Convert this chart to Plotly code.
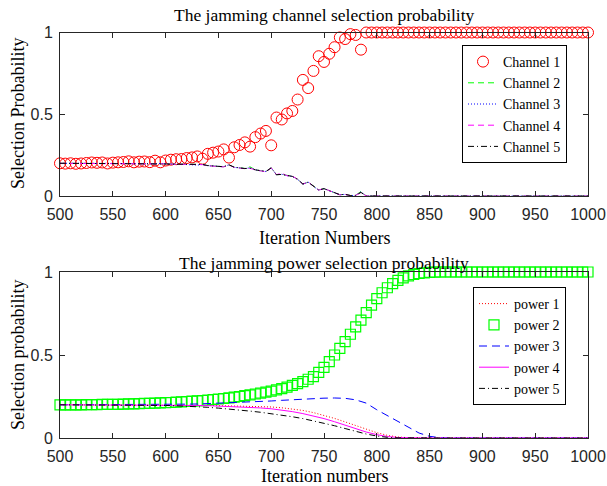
import plotly.graph_objects as go

# ---------------- data ----------------
ITER = list(range(500, 1001, 5))          # marker iterations (step 5)
ITER_LINE = list(range(500, 1001, 10))    # power line iterations (step 10)

CH1 = [0.200, 0.198, 0.200, 0.197, 0.199, 0.202, 0.205, 0.203, 0.205, 0.199,
       0.204, 0.206, 0.208, 0.212, 0.206, 0.210, 0.211, 0.207, 0.216, 0.206,
       0.217, 0.222, 0.225, 0.226, 0.232, 0.236, 0.242, 0.228, 0.258, 0.265,
       0.272, 0.285, 0.235, 0.298, 0.312, 0.328, 0.302, 0.360, 0.382, 0.398,
       0.310, 0.480, 0.468, 0.505, 0.520, 0.590, 0.710, 0.660, 0.765, 0.855,
       0.820, 0.870, 0.910, 0.970, 0.960, 0.990, 0.985, 0.895] + [1.0] * 43

CH2 = [0.200, 0.200, 0.200, 0.201, 0.200, 0.199, 0.199, 0.199, 0.199, 0.200,
       0.199, 0.198, 0.198, 0.197, 0.198, 0.197, 0.197, 0.198, 0.196, 0.198,
       0.196, 0.195, 0.194, 0.193, 0.192, 0.191, 0.190, 0.193, 0.186, 0.184,
       0.182, 0.179, 0.190, 0.176, 0.172, 0.169, 0.178, 0.160, 0.155, 0.150,
       0.172, 0.130, 0.133, 0.125, 0.120, 0.103, 0.073, 0.085, 0.059, 0.037,
       0.045, 0.033, 0.022, 0.008, 0.010, 0.003, 0.004, 0.028] + [0.0] * 43

CH3 = [0.200, 0.201, 0.200, 0.200, 0.200, 0.200, 0.199, 0.199, 0.199, 0.200,
       0.199, 0.199, 0.198, 0.197, 0.199, 0.198, 0.197, 0.198, 0.196, 0.199,
       0.196, 0.195, 0.194, 0.194, 0.192, 0.191, 0.189, 0.193, 0.185, 0.184,
       0.182, 0.179, 0.191, 0.175, 0.172, 0.168, 0.172, 0.160, 0.154, 0.150,
       0.172, 0.130, 0.133, 0.124, 0.120, 0.102, 0.072, 0.085, 0.059, 0.036,
       0.045, 0.032, 0.023, 0.008, 0.010, 0.002, 0.004, 0.025] + [0.0] * 43

CH4 = [0.200, 0.200, 0.200, 0.200, 0.200, 0.199, 0.199, 0.199, 0.199, 0.200,
       0.199, 0.198, 0.198, 0.197, 0.198, 0.198, 0.197, 0.198, 0.196, 0.198,
       0.196, 0.195, 0.194, 0.193, 0.192, 0.191, 0.189, 0.192, 0.185, 0.184,
       0.181, 0.178, 0.190, 0.175, 0.171, 0.167, 0.170, 0.159, 0.154, 0.148,
       0.172, 0.130, 0.140, 0.124, 0.121, 0.103, 0.073, 0.086, 0.060, 0.036,
       0.046, 0.033, 0.022, 0.007, 0.010, 0.002, 0.004, 0.022] + [0.0] * 43

CH5 = [0.200, 0.200, 0.200, 0.200, 0.200, 0.200, 0.199, 0.199, 0.199, 0.200,
       0.199, 0.199, 0.198, 0.197, 0.198, 0.197, 0.197, 0.198, 0.196, 0.198,
       0.196, 0.195, 0.194, 0.194, 0.192, 0.191, 0.190, 0.193, 0.186, 0.184,
       0.182, 0.179, 0.191, 0.176, 0.172, 0.168, 0.170, 0.160, 0.155, 0.150,
       0.172, 0.130, 0.132, 0.124, 0.120, 0.102, 0.073, 0.085, 0.059, 0.036,
       0.045, 0.032, 0.022, 0.008, 0.010, 0.003, 0.004, 0.022] + [0.0] * 43

POWER2 = [0.200, 0.200, 0.200, 0.200, 0.200, 0.201, 0.201, 0.201, 0.202, 0.202,
          0.203, 0.203,
          0.204, 0.205, 0.206, 0.207, 0.208, 0.209, 0.210, 0.211, 0.213, 0.214,
          0.216, 0.218, 0.220, 0.222, 0.224, 0.226, 0.229, 0.232, 0.235, 0.238,
          0.242, 0.246, 0.250, 0.255, 0.260, 0.265, 0.270, 0.276, 0.282, 0.290,
          0.298, 0.307, 0.317, 0.328, 0.340, 0.354, 0.370, 0.395, 0.425, 0.460,
          0.500, 0.540, 0.580, 0.625, 0.670, 0.710, 0.755, 0.800, 0.840, 0.875,
          0.905, 0.930, 0.950, 0.965, 0.977, 0.985, 0.991, 0.995, 0.998, 0.999] + [1.0] * 29

POWER1 = [0.200, 0.200, 0.200, 0.200, 0.200, 0.200, 0.200, 0.200, 0.200, 0.199,
          0.199, 0.198, 0.198, 0.197, 0.196, 0.195, 0.194, 0.192, 0.190, 0.189,
          0.187, 0.182, 0.175, 0.166, 0.153, 0.137, 0.118, 0.097, 0.074, 0.052,
          0.032, 0.016, 0.006, 0.002, 0.000, 0.000, 0.000, 0.000, 0.000, 0.000,
          0.000, 0.000, 0.000, 0.000, 0.000, 0.000, 0.000, 0.000, 0.000, 0.000,
          0.000]
POWER3 = [0.200, 0.200, 0.200, 0.200, 0.200, 0.200, 0.200, 0.201, 0.201, 0.201,
          0.202, 0.203, 0.204, 0.205, 0.207, 0.209, 0.211, 0.214, 0.217, 0.220,
          0.223, 0.227, 0.231, 0.235, 0.238, 0.240, 0.241, 0.239, 0.230, 0.210,
          0.170, 0.135, 0.098, 0.062, 0.030, 0.010, 0.002, 0.000, 0.000, 0.000,
          0.000, 0.000, 0.000, 0.000, 0.000, 0.000, 0.000, 0.000, 0.000, 0.000,
          0.000]
POWER4 = [0.200, 0.200, 0.200, 0.200, 0.200, 0.200, 0.200, 0.199, 0.199, 0.199,
          0.198, 0.198, 0.197, 0.196, 0.195, 0.193, 0.191, 0.188, 0.185, 0.181,
          0.176, 0.168, 0.159, 0.147, 0.133, 0.117, 0.098, 0.077, 0.056, 0.036,
          0.020, 0.009, 0.003, 0.001, 0.000, 0.000, 0.000, 0.000, 0.000, 0.000,
          0.000, 0.000, 0.000, 0.000, 0.000, 0.000, 0.000, 0.000, 0.000, 0.000,
          0.000]
POWER5 = [0.200, 0.200, 0.200, 0.200, 0.200, 0.200, 0.199, 0.199, 0.198, 0.197,
          0.196, 0.194, 0.192, 0.189, 0.185, 0.180, 0.175, 0.169, 0.162, 0.155,
          0.147, 0.138, 0.128, 0.117, 0.104, 0.090, 0.074, 0.057, 0.040, 0.024,
          0.012, 0.004, 0.001, 0.000, 0.000, 0.000, 0.000, 0.000, 0.000, 0.000,
          0.000, 0.000, 0.000, 0.000, 0.000, 0.000, 0.000, 0.000, 0.000, 0.000,
          0.000]

X_TICKS = [500, 550, 600, 650, 700, 750, 800, 850, 900, 950, 1000]
Y_TICKS = [0, 0.5, 1]
Y_TICKTEXT = ["0", "0.5", "1"]

# ---------------- figure ----------------
W, H = 607, 486
SERIF = "Liberation Serif"
SANS = "Liberation Sans"
AX = "#262626"

fig = go.Figure()

fig.add_trace(go.Scatter(x=ITER, y=CH1, mode="markers", name="Channel 1",
                         marker=dict(symbol="circle-open", size=11, color="#ff0000",
                                     line=dict(width=1, color="#ff0000")),
                         cliponaxis=False, xaxis="x", yaxis="y", legend="legend"))
for name, ys, col, dash in [("Channel 2", CH2, "#00ff00", "6px,4px"),
                            ("Channel 3", CH3, "#0000ff", "1px,2px"),
                            ("Channel 4", CH4, "#ff00ff", "6px,4px"),
                            ("Channel 5", CH5, "#000000", "6px,3px,1px,3px")]:
    fig.add_trace(go.Scatter(x=ITER, y=ys, mode="lines", name=name,
                             line=dict(color=col, width=1, dash=dash),
                             xaxis="x", yaxis="y", legend="legend"))

fig.add_trace(go.Scatter(x=ITER_LINE, y=POWER1, mode="lines", name="power 1",
                         line=dict(color="#ff0000", width=1, dash="1px,2px"),
                         xaxis="x2", yaxis="y2", legend="legend2"))
fig.add_trace(go.Scatter(x=ITER, y=POWER2, mode="markers", name="power 2",
                         marker=dict(symbol="square-open", size=10, color="#00ff00",
                                     line=dict(width=1.2, color="#00ff00")),
                         cliponaxis=False, xaxis="x2", yaxis="y2", legend="legend2"))
for name, ys, col, dash in [("power 3", POWER3, "#0000ff", "8px,5px"),
                            ("power 4", POWER4, "#ff00ff", "solid"),
                            ("power 5", POWER5, "#000000", "6px,3px,1px,3px")]:
    fig.add_trace(go.Scatter(x=ITER_LINE, y=ys, mode="lines", name=name,
                             line=dict(color=col, width=1, dash=dash),
                             xaxis="x2", yaxis="y2", legend="legend2"))

xl, xr = 60 / W, 588 / W
top_dom = [1 - 196 / H, 1 - 32.5 / H]
bot_dom = [1 - 438 / H, 1 - 272 / H]

axis_common = dict(showline=True, linecolor=AX, linewidth=1, mirror="allticks",
                   ticks="inside", ticklen=5, tickcolor=AX, tickwidth=1,
                   showgrid=False, zeroline=False, automargin=False,
                   tickfont=dict(family=SANS, size=16, color=AX))

fig.update_layout(
    width=W, height=H, margin=dict(l=0, r=0, t=0, b=0, autoexpand=False),
    paper_bgcolor="white", plot_bgcolor="white",
    xaxis=dict(domain=[xl, xr], range=[500, 1000], tickvals=X_TICKS, anchor="y",
               ticklabelstandoff=4, **axis_common),
    yaxis=dict(domain=top_dom, range=[0, 1], tickvals=Y_TICKS, ticktext=Y_TICKTEXT, anchor="x",
               ticklabelstandoff=3, **axis_common),
    xaxis2=dict(domain=[xl, xr], range=[500, 1000], tickvals=X_TICKS, anchor="y2",
                ticklabelstandoff=4, **axis_common),
    yaxis2=dict(domain=bot_dom, range=[0, 1], tickvals=Y_TICKS, ticktext=Y_TICKTEXT, anchor="x2",
                ticklabelstandoff=3, **axis_common),
    legend=dict(x=462 / W, y=1 - 45 / H, xanchor="left", yanchor="top",
                bordercolor="black", borderwidth=1, bgcolor="white",
                font=dict(family=SERIF, size=14, color="black"), tracegroupgap=0),
    legend2=dict(x=473 / W, y=1 - 287 / H, xanchor="left", yanchor="top",
                 bordercolor="black", borderwidth=1, bgcolor="white",
                 font=dict(family=SERIF, size=14, color="black"), tracegroupgap=0),
    showlegend=True,
)

cx = (xl + xr) / 2
annots = [
    ("The jamming channel selection probability", cx, 1 - 15 / H, 0, 17.5),
    ("Iteration Numbers", cx, 1 - 238 / H, 0, 18),
    ("Selection Probability", 18 / W, 1 - 114 / H, -90, 18),
    ("The jamming power selection probability", cx, 1 - 263 / H, 0, 17.5),
    ("Iteration numbers", cx, 1 - 476 / H, 0, 18),
    ("Selection probability", 18 / W, 1 - 355 / H, -90, 18),
]
for text, x, y, ang, fs in annots:
    fig.add_annotation(text=text, x=x, y=y, xref="paper", yref="paper",
                       xanchor="center", yanchor="middle", showarrow=False,
                       textangle=ang, font=dict(family=SERIF, size=fs, color="black"))

fig.write_html("out.html")
